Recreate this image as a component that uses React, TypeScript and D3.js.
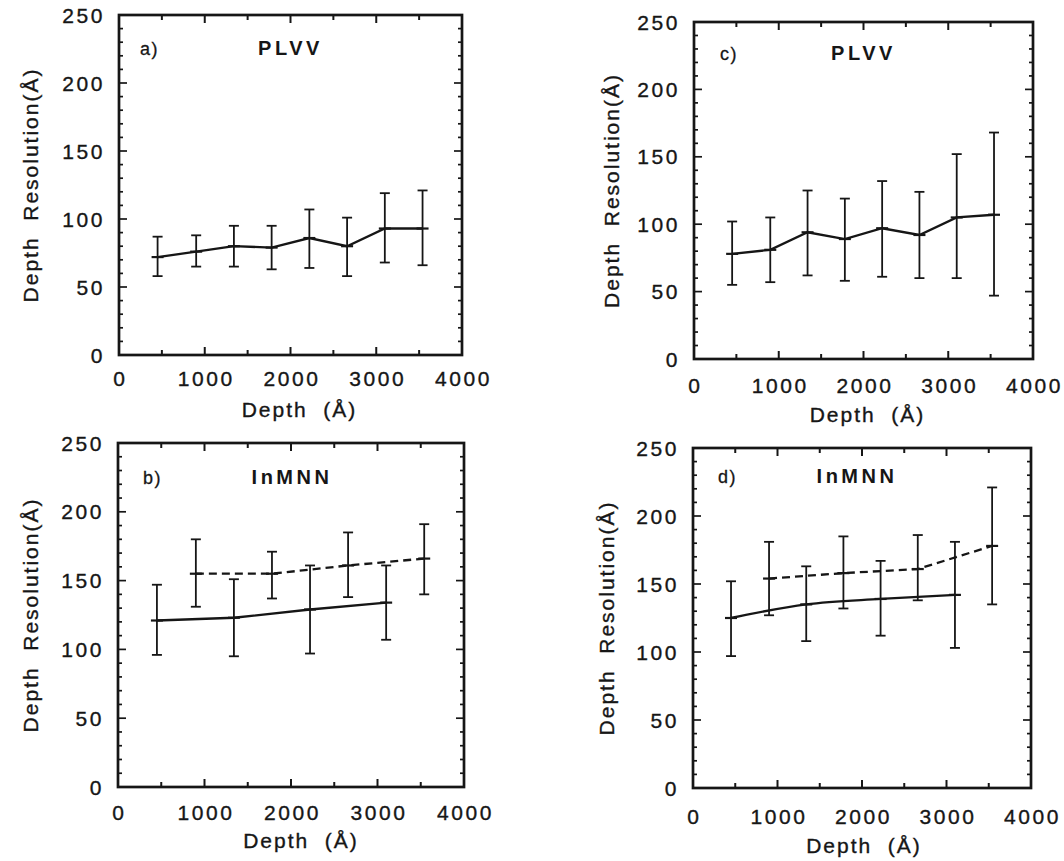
import React from "react";
import * as d3 from "d3";

// ---------- data ----------
const depthTicks = [0, 1000, 2000, 3000, 4000];
const resTicks = [0, 50, 100, 150, 200, 250];

const allDepths = [450, 900, 1340, 1780, 2220, 2660, 3100, 3540];
const oddDepths = [450, 1340, 2220, 3100];
const evenDepths = [900, 1780, 2660, 3540];

// a) PLVV
const aMean = [72, 76, 80, 79, 86, 80, 93, 93];
const aLow = [58, 65, 65, 63, 64, 58, 68, 66];
const aHigh = [87, 88, 95, 95, 107, 101, 119, 121];

// c) PLVV
const cMean = [78, 81, 94, 89, 97, 92, 105, 107];
const cLow = [55, 57, 62, 58, 61, 60, 60, 47];
const cHigh = [102, 105, 125, 119, 132, 124, 152, 168];

// b) InMNN
const bSolidMean = [121, 123, 129, 134];
const bSolidLow = [96, 95, 97, 107];
const bSolidHigh = [147, 151, 161, 161];
const bDashMean = [155, 155, 161, 166];
const bDashLow = [131, 137, 138, 140];
const bDashHigh = [180, 171, 185, 191];

// d) InMNN
const dSolidMean = [125, 135, 139, 142];
const dSolidLow = [97, 108, 112, 103];
const dSolidHigh = [152, 163, 167, 181];
const dDashMean = [154, 158, 161, 178];
const dDashLow = [127, 132, 138, 135];
const dDashHigh = [181, 185, 186, 221];

type Series = {
  depths: number[];
  mean: number[];
  low: number[];
  high: number[];
  dashed: boolean;
  smooth: boolean;
};

type PanelSpec = {
  x0: number; x1: number; y0: number; y1: number;
  letter: string; name: string;
  letterDx: number; letterDy: number; nameDx: number;
  xTickDy: number; xTitleDy: number; xTitleDx: number; yTitleDx: number;
  series: Series[];
};

const panels: PanelSpec[] = [
  {
    x0: 119, x1: 462, y0: 15, y1: 355, letter: "a)", name: "PLVV",
    letterDx: 21, letterDy: 40, nameDx: 0, xTickDy: 31, xTitleDy: 62, xTitleDx: 9, yTitleDx: -81,
    series: [{ depths: allDepths, mean: aMean, low: aLow, high: aHigh, dashed: false, smooth: false }],
  },
  {
    x0: 694, x1: 1033, y0: 22, y1: 359, letter: "c)", name: "PLVV",
    letterDx: 26, letterDy: 38, nameDx: 0, xTickDy: 34, xTitleDy: 63, xTitleDx: 4, yTitleDx: -75,
    series: [{ depths: allDepths, mean: cMean, low: cLow, high: cHigh, dashed: false, smooth: false }],
  },
  {
    x0: 118, x1: 464, y0: 443, y1: 787, letter: "b)", name: "InMNN",
    letterDx: 25, letterDy: 41, nameDx: 1, xTickDy: 33, xTitleDy: 61, xTitleDx: 10, yTitleDx: -80,
    series: [
      { depths: oddDepths, mean: bSolidMean, low: bSolidLow, high: bSolidHigh, dashed: false, smooth: false },
      { depths: evenDepths, mean: bDashMean, low: bDashLow, high: bDashHigh, dashed: true, smooth: false },
    ],
  },
  {
    x0: 693, x1: 1031, y0: 448, y1: 788, letter: "d)", name: "InMNN",
    letterDx: 25, letterDy: 35, nameDx: -5, xTickDy: 36, xTitleDy: 65, xTitleDx: 2, yTitleDx: -79,
    series: [
      { depths: oddDepths, mean: dSolidMean, low: dSolidLow, high: dSolidHigh, dashed: false, smooth: true },
      { depths: evenDepths, mean: dDashMean, low: dDashLow, high: dDashHigh, dashed: true, smooth: false },
    ],
  },
];

const INK = "#161616";
const FONT = "'Liberation Sans', Arial, Helvetica, sans-serif";

function Panel({ p }: { p: PanelSpec }) {
  const x = d3.scaleLinear().domain([0, 4000]).range([p.x0, p.x1]);
  const y = d3.scaleLinear().domain([0, 250]).range([p.y1, p.y0]);
  const yMinor = d3.range(0, 251, 10);
  const xMinor = d3.range(0, 4001, 500);
  const cap = 5;
  const mark = 6;
  const cx = (p.x0 + p.x1) / 2;
  const cy = (p.y0 + p.y1) / 2;

  return (
    <g>
      {/* ticks */}
      {yMinor.map((v) => {
        const len = v % 50 === 0 ? 8 : 4;
        return (
          <g key={"y" + v} stroke={INK} strokeWidth={1.7}>
            <line x1={p.x0} x2={p.x0 + len} y1={y(v)} y2={y(v)} />
            <line x1={p.x1} x2={p.x1 - len} y1={y(v)} y2={y(v)} />
          </g>
        );
      })}
      {xMinor.map((v) => {
        const len = v % 1000 === 0 ? 8 : 5;
        return (
          <g key={"x" + v} stroke={INK} strokeWidth={2}>
            <line x1={x(v)} x2={x(v)} y1={p.y1} y2={p.y1 - len} />
            <line x1={x(v)} x2={x(v)} y1={p.y0} y2={p.y0 + len} />
          </g>
        );
      })}
      <rect x={p.x0} y={p.y0} width={p.x1 - p.x0} height={p.y1 - p.y0}
        fill="none" stroke={INK} strokeWidth={2.7} />

      {/* series */}
      {p.series.map((s, si) => {
        const pts = s.depths.map((dd, i) => ({ d: dd, m: s.mean[i], lo: s.low[i], hi: s.high[i] }));
        const line = d3.line<typeof pts[0]>()
          .x((q) => x(q.d))
          .y((q) => y(q.m))
          .curve(s.smooth ? d3.curveMonotoneX : d3.curveLinear);
        return (
          <g key={si}>
            <path d={line(pts) || ""} fill="none" stroke={INK} strokeWidth={2.3}
              strokeDasharray={s.dashed ? "8 5" : undefined} />
            {pts.map((q, i) => (
              <g key={i} stroke={INK} strokeWidth={1.8}>
                <line x1={x(q.d)} x2={x(q.d)} y1={y(q.lo)} y2={y(q.hi)} />
                <line x1={x(q.d) - cap} x2={x(q.d) + cap} y1={y(q.lo)} y2={y(q.lo)} />
                <line x1={x(q.d) - cap} x2={x(q.d) + cap} y1={y(q.hi)} y2={y(q.hi)} />
                <line x1={x(q.d) - mark} x2={x(q.d) + mark} y1={y(q.m)} y2={y(q.m)} strokeWidth={2.2} />
              </g>
            ))}
          </g>
        );
      })}

      {/* tick labels and axis titles */}
      <g fontFamily={FONT} fontSize={21} fill={INK} stroke={INK} strokeWidth={0.35} letterSpacing={2.6}>
        {resTicks.map((v) => (
          <text key={"yl" + v} x={p.x0 - 14} y={y(v)} dy="0.36em" textAnchor="end">{v}</text>
        ))}
        {depthTicks.map((v) => (
          <text key={"xl" + v} x={x(v) + 1.5} y={p.y1 + p.xTickDy} textAnchor="middle">{v}</text>
        ))}
      </g>
      <g fontFamily={FONT} fontSize={21} fill={INK} stroke={INK} strokeWidth={0.35} letterSpacing={2}>
        <text x={cx + p.xTitleDx} y={p.y1 + p.xTitleDy} textAnchor="middle" style={{ whiteSpace: "pre" }}>{"Depth  (Å)"}</text>
        <text transform={`translate(${p.x0 + p.yTitleDx},${cy}) rotate(-90)`} textAnchor="middle"
          style={{ whiteSpace: "pre" }}>{"Depth  Resolution(Å)"}</text>
      </g>

      {/* panel labels */}
      <text x={p.x0 + p.letterDx} y={p.y0 + p.letterDy} fontFamily={FONT} fontSize={18} fill={INK}
        stroke={INK} strokeWidth={0.3} letterSpacing={1.5}>{p.letter}</text>
      <text x={cx + p.nameDx} y={p.y0 + p.letterDy} fontFamily={FONT} fontSize={20} fontWeight="bold"
        fill={INK} textAnchor="middle" letterSpacing={3.5}>{p.name}</text>
    </g>
  );
}

export default function App() {
  return (
    <svg width={1064} height={861} viewBox="0 0 1064 861"
      style={{ position: "absolute", left: 0, top: 0, background: "#fff" }}>
      <rect width={1064} height={861} fill="#fff" />
      {panels.map((p, i) => <Panel key={i} p={p} />)}
    </svg>
  );
}
